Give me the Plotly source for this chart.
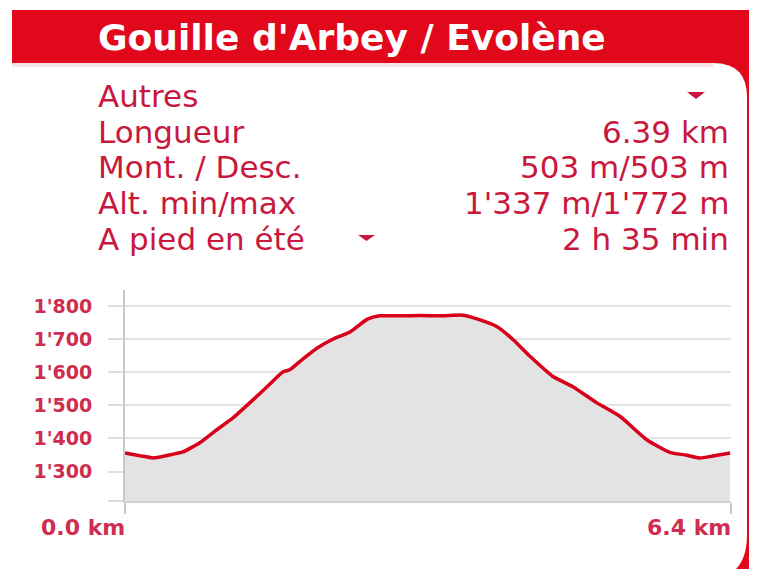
import plotly.graph_objects as go

# ---- data ----
distance_km = [0.00, 0.15, 0.30, 0.45, 0.61, 0.79, 0.95, 1.14, 1.32, 1.50, 1.67, 1.74, 1.88, 2.03, 2.20, 2.38, 2.56,
               2.69, 2.90, 3.12, 3.35, 3.57, 3.75, 3.93, 4.10, 4.28, 4.52, 4.73, 4.98, 5.23, 5.51, 5.76, 5.92,
               6.07, 6.21, 6.39]
elevation_m = [1356, 1348, 1341, 1349, 1359, 1387, 1422, 1462, 1508, 1556, 1601, 1607, 1640, 1673, 1700, 1722, 1760,
               1770, 1770, 1771, 1770, 1772, 1758, 1737, 1698, 1647, 1587, 1556, 1508, 1466, 1396, 1357, 1350,
               1341, 1347, 1356]

title_text = "Gouille d'Arbey / Evolène"
row_labels = ["Autres", "Longueur", "Mont. / Desc.", "Alt. min/max", "A pied en été"]
row_values = ["", "6.39 km", "503 m/503 m", "1'337 m/1'772 m", "2 h 35 min"]
y_tickvals = [1211, 1300, 1400, 1500, 1600, 1700, 1800]
y_ticktext = ["", "1'300", "1'400", "1'500", "1'600", "1'700", "1'800"]
x_ends = [0.0, 6.4]
x_end_labels = ["0.0 km", "6.4 km"]

# page body has an 8px margin; figure occupies the rest of the 757x569 window
OFF = 8
W, H = 757 - OFF, 569 - OFF


def px(x):
    return (x - OFF) / W


def py(y):
    return 1 - (y - OFF) / H


RED = "#e2081c"
TXT = "#c8183e"
FONT = "DejaVu Sans"

fig = go.Figure()
fig.add_trace(go.Scatter(
    x=distance_km, y=elevation_m, mode="lines",
    line=dict(color="#d8001a", width=3.5, shape="spline", smoothing=0.5),
    fill="tozeroy", fillcolor="#e3e3e3", hoverinfo="skip", showlegend=False,
))

shapes = []
# header band
shapes.append(dict(type="rect", xref="paper", yref="paper", x0=px(12), x1=px(765), y0=py(63), y1=py(10),
                   fillcolor=RED, line_width=0, layer="below"))
# right red border area
shapes.append(dict(type="rect", xref="paper", yref="paper", x0=px(705), x1=px(765), y0=py(580), y1=py(62),
                   fillcolor=RED, line_width=0, layer="below"))
# white card interior with rounded right corners
card = (f"M {px(0)},{py(63)} L {px(713)},{py(63)} Q {px(747)},{py(63)} {px(747)},{py(97)} "
        f"L {px(747)},{py(535)} Q {px(747)},{py(569)} {px(722)},{py(578)} L {px(0)},{py(578)} Z")
shapes.append(dict(type="path", xref="paper", yref="paper", path=card, fillcolor="white", line_width=0, layer="below"))
# faint pink line under header
shapes.append(dict(type="rect", xref="paper", yref="paper", x0=px(12), x1=px(713), y0=py(67), y1=py(63),
                   fillcolor="#f7e3e6", line_width=0, layer="below"))
# dropdown triangles
tri1 = f"M {px(687)},{py(92)} L {px(705)},{py(92)} L {px(696)},{py(99)} Z"
tri2 = f"M {px(358)},{py(235)} L {px(375)},{py(235)} L {px(366.5)},{py(241)} Z"
for t in (tri1, tri2):
    shapes.append(dict(type="path", xref="paper", yref="paper", path=t, fillcolor=TXT, line_width=0))

annotations = []
annotations.append(dict(text=f"<b>{title_text}</b>", xref="paper", yref="paper", x=px(96), y=py(37),
                        xanchor="left", yanchor="middle", showarrow=False,
                        font=dict(family=FONT, size=36, color="white")))
row_y = [96, 132, 167, 203, 239]
for lab, val, yy in zip(row_labels, row_values, row_y):
    annotations.append(dict(text=lab, xref="paper", yref="paper", x=px(96), y=py(yy), xanchor="left",
                            yanchor="middle", showarrow=False, font=dict(family=FONT, size=31, color=TXT)))
    if val:
        annotations.append(dict(text=val, xref="paper", yref="paper", x=px(731), y=py(yy), xanchor="right",
                                yanchor="middle", showarrow=False, font=dict(family=FONT, size=31, color=TXT)))
for xv, lab in zip(x_ends, x_end_labels):
    annotations.append(dict(text=f"<b>{lab}</b>", xref="x", yref="paper", x=xv, y=py(527), xanchor="right",
                            yanchor="middle", showarrow=False, xshift=2,
                            font=dict(family=FONT, size=22, color="#cf2d50")))

fig.update_layout(
    width=W, height=H, margin=dict(l=0, r=0, t=0, b=0),
    paper_bgcolor="white", plot_bgcolor="rgba(0,0,0,0)",
    shapes=shapes, annotations=annotations, showlegend=False,
    xaxis=dict(domain=[px(125), px(731)], range=[0, 6.4], showgrid=False, zeroline=False,
               tickvals=x_ends, ticks="outside", ticklen=11, tickcolor="#c9c9c9", tickwidth=2,
               showticklabels=False, showline=True, linecolor="#d2d2d2", linewidth=2, fixedrange=True),
    yaxis=dict(domain=[py(501), py(290)], range=[1211, 1848], tickvals=y_tickvals, ticktext=y_ticktext,
               ticks="outside", ticklen=15, tickcolor="#dddddd", tickwidth=2,
               showgrid=True, gridcolor="#e4e4e4", gridwidth=2, zeroline=False,
               showline=True, linecolor="#c9c9c9", linewidth=2, ticklabelstandoff=12,
               tickfont=dict(family=FONT, size=19, color="#cf2d50", weight="bold"), fixedrange=True),
)

fig.write_html("out.html")
